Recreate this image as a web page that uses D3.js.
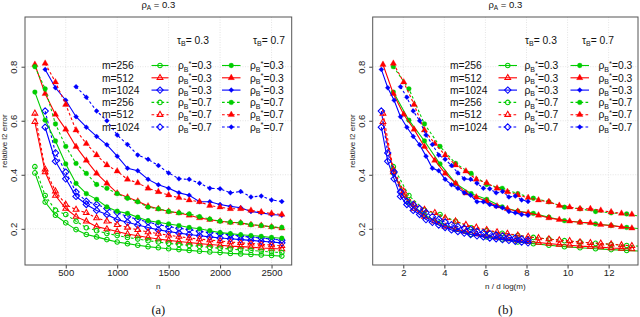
<!DOCTYPE html>
<html>
<head>
<meta charset="utf-8">
<script src="https://cdnjs.cloudflare.com/ajax/libs/d3/7.8.5/d3.min.js"></script>
<style>
body { margin: 0; background: #fff; }
svg { display: block; font-family: "Liberation Sans", Arial, sans-serif; }
</style>
</head>
<body>
<script>
var w = 640;
var h = 317;

// sample sizes used on the x axis of panel (a)
var nGrid = [200, 300, 400, 500, 600, 700, 800, 900, 1000, 1100, 1200, 1300, 1400,
             1500, 1600, 1700, 1800, 1900, 2000, 2100, 2200, 2300, 2400, 2500, 2600];

var mLabels = ["m=256", "m=512", "m=1024"];
var colors = ["#00cd00", "#ff0000", "#0000ff"];
// d log(m) for m = 256, 512, 1024 (divisor for panel b)
var dLogM = [132, 198, 322];

var xTicksA = [500, 1000, 1500, 2000, 2500];
var xTicksB = [2, 4, 6, 8, 10, 12];
var yTicks = [0.2, 0.4, 0.6, 0.8];

// tau_B = 0.3 (open symbols)
var greenOpen03 = [0.407, 0.299, 0.25, 0.222, 0.197, 0.179, 0.17, 0.16, 0.151, 0.145, 0.139, 0.134, 0.13,
                   0.126, 0.123, 0.12, 0.117, 0.114, 0.112, 0.109, 0.107, 0.105, 0.103, 0.101, 0.099];
var greenOpen07 = [0.43, 0.323, 0.269, 0.253, 0.228, 0.204, 0.193, 0.183, 0.175, 0.168, 0.162, 0.156, 0.151,
                   0.146, 0.142, 0.138, 0.135, 0.131, 0.128, 0.125, 0.122, 0.12, 0.117, 0.114, 0.112];
var redOpen03 = [0.596, 0.41, 0.323, 0.275, 0.245, 0.228, 0.208, 0.199, 0.19, 0.181, 0.174, 0.168, 0.162,
                 0.157, 0.153, 0.149, 0.145, 0.142, 0.139, 0.136, 0.134, 0.132, 0.129, 0.127, 0.125];
var redOpen07 = [0.627, 0.42, 0.339, 0.29, 0.271, 0.259, 0.24, 0.228, 0.215, 0.205, 0.196, 0.188, 0.182,
                 0.176, 0.171, 0.166, 0.162, 0.158, 0.155, 0.151, 0.148, 0.146, 0.143, 0.14, 0.137];
var blueOpen03 = [0.576, 0.45, 0.385, 0.32, 0.29, 0.268, 0.253, 0.234, 0.224, 0.214, 0.205, 0.196,
                  0.19, 0.184, 0.179, 0.174, 0.17, 0.166, 0.163, 0.16, 0.157, 0.154, 0.151, 0.148];
var blueOpen07 = [0.636, 0.481, 0.41, 0.336, 0.302, 0.29, 0.275, 0.26, 0.245, 0.235, 0.225, 0.215,
                  0.208, 0.202, 0.197, 0.19, 0.186, 0.182, 0.177, 0.173, 0.169, 0.166, 0.162, 0.158];

// tau_B = 0.7 (filled symbols)
var greenFill03 = [0.706, 0.602, 0.525, 0.44, 0.368, 0.33, 0.309, 0.281, 0.265, 0.257, 0.243, 0.23, 0.224,
                   0.218, 0.212, 0.205, 0.2, 0.193, 0.186, 0.182, 0.178, 0.175, 0.172, 0.168, 0.165];
var greenFill07 = [0.80, 0.718, 0.588, 0.505, 0.442, 0.405, 0.364, 0.35, 0.33, 0.313, 0.30, 0.28, 0.274,
                   0.264, 0.259, 0.255, 0.245, 0.236, 0.228, 0.224, 0.222, 0.215, 0.212, 0.207, 0.205];
var redFill03 = [0.808, 0.70, 0.623, 0.568, 0.504, 0.453, 0.405, 0.368, 0.332, 0.317, 0.302, 0.284, 0.274,
                 0.264, 0.259, 0.25, 0.24, 0.234, 0.228, 0.224, 0.222, 0.215, 0.212, 0.207, 0.202];
var redFill07 = [0.812, 0.743, 0.66, 0.565, 0.515, 0.473, 0.436, 0.413, 0.383, 0.37, 0.35, 0.337,
                 0.325, 0.315, 0.306, 0.30, 0.286, 0.28, 0.274, 0.274, 0.268, 0.262, 0.257, 0.253];
var blueFill03 = [0.79, 0.722, 0.676, 0.615, 0.576, 0.542, 0.511, 0.469, 0.424, 0.415, 0.383, 0.363,
                  0.35, 0.333, 0.324, 0.30, 0.30, 0.29, 0.283, 0.278, 0.264, 0.259, 0.253, 0.25];
var blueFill07 = [0.726, 0.687, 0.636, 0.60, 0.547, 0.512, 0.473, 0.457, 0.434, 0.407, 0.385,
                  0.383, 0.369, 0.35, 0.348, 0.333, 0.338, 0.318, 0.321, 0.307, 0.301];

// m index, tau column (0 open / 1 filled), rho row (0 solid / 1 dashed), first n
var series = [
  {m: 0, tau: 0, rho: 0, start: 200, y: greenOpen03},
  {m: 1, tau: 0, rho: 0, start: 200, y: redOpen03},
  {m: 2, tau: 0, rho: 0, start: 300, y: blueOpen03},
  {m: 0, tau: 0, rho: 1, start: 200, y: greenOpen07},
  {m: 1, tau: 0, rho: 1, start: 200, y: redOpen07},
  {m: 2, tau: 0, rho: 1, start: 300, y: blueOpen07},
  {m: 0, tau: 1, rho: 0, start: 200, y: greenFill03},
  {m: 1, tau: 1, rho: 0, start: 200, y: redFill03},
  {m: 2, tau: 1, rho: 0, start: 300, y: blueFill03},
  {m: 0, tau: 1, rho: 1, start: 200, y: greenFill07},
  {m: 1, tau: 1, rho: 1, start: 300, y: redFill07},
  {m: 2, tau: 1, rho: 1, start: 600, y: blueFill07}
];

var plotTop = 17, plotBottom = 265;

var panels = [
  {id: "a", left: 25, right: 291.7, xDomain: [104, 2696], xTicks: xTicksA, xLabel: "n", tag: "(a)", scaled: false,
   lg: {m: 102, l1: 151.5, l2: 168.5, t1: 178, l3: 222, l4: 240.5, t2: 250, h1: 177, h2: 253}},
  {id: "b", left: 372.7, right: 638, xDomain: [0.51, 13.43], xTicks: xTicksB, xLabel: "n / d log(m)", tag: "(b)", scaled: true,
   lg: {m: 450, l1: 498.5, l2: 517, t1: 524.5, l3: 570.5, l4: 589, t2: 598.5, h1: 525, h2: 582}}
];

var svg = d3.select("body").append("svg")
            .attr("width", w)
            .attr("height", h);
var defs = svg.append("defs");

var y = d3.scaleLinear().domain([0.066, 0.984]).range([plotBottom, plotTop]);

// R style plotting symbols
function shapePath(type, filled) {
  var p = d3.path();
  if (type == 0) {
    var r = filled ? 2.4 : 2.3;
    p.arc(0, 0, r, 0, 2 * Math.PI);
  } else if (type == 1) {
    var s = filled ? 6.4 : 5.8;
    p.moveTo(0, -s * 0.577);
    p.lineTo(s / 2, s * 0.289);
    p.lineTo(-s / 2, s * 0.289);
    p.closePath();
  } else {
    var d = filled ? 2.5 : 3.2;
    p.moveTo(0, -d);
    p.lineTo(d, 0);
    p.lineTo(0, d);
    p.lineTo(-d, 0);
    p.closePath();
  }
  return p.toString();
}

function drawMarker(g, s, px, py) {
  g.append("path")
   .attr("d", shapePath(s.m, s.tau == 1))
   .attr("transform", "translate(" + px + "," + py + ")")
   .attr("fill", s.tau == 1 ? colors[s.m] : "none")
   .attr("stroke", colors[s.m])
   .attr("stroke-width", s.tau == 1 ? 0.3 : 1.05);
}

function rhoText(g, x, yy, value) {
  var t = g.append("text").attr("x", x).attr("y", yy)
           .attr("font-size", 10.3).attr("fill", "#111");
  t.append("tspan").text("\u03c1");
  t.append("tspan").attr("font-size", 7).attr("dy", 2.5).text("B");
  t.append("tspan").attr("font-size", 7.5).attr("dy", -6).text("*");
  t.append("tspan").attr("dy", 3.5).text("=" + value);
}

function tauText(g, x, yy, value) {
  var t = g.append("text").attr("x", x).attr("y", yy)
           .attr("font-size", 10.3).attr("fill", "#111");
  t.append("tspan").text("\u03c4");
  t.append("tspan").attr("font-size", 7).attr("dy", 2.5).text("B");
  t.append("tspan").attr("dy", -2.5).text("= " + value);
}

panels.forEach(function(p) {
  var x = d3.scaleLinear().domain(p.xDomain).range([p.left, p.right]);
  var g = svg.append("g");

  defs.append("clipPath").attr("id", "clip-" + p.id)
      .append("rect")
      .attr("x", p.left).attr("y", plotTop)
      .attr("width", p.right - p.left).attr("height", plotBottom - plotTop);

  // grid
  g.selectAll(".vg").data(p.xTicks).enter().append("line")
   .attr("x1", function(d) { return x(d); }).attr("x2", function(d) { return x(d); })
   .attr("y1", plotTop).attr("y2", plotBottom)
   .attr("stroke", "#d8d8d8").attr("stroke-width", 0.7).attr("stroke-dasharray", "1,1.5");
  g.selectAll(".hg").data(yTicks).enter().append("line")
   .attr("x1", p.left).attr("x2", p.right)
   .attr("y1", function(d) { return y(d); }).attr("y2", function(d) { return y(d); })
   .attr("stroke", "#d8d8d8").attr("stroke-width", 0.7).attr("stroke-dasharray", "1,1.5");

  // axes
  var xa = g.append("g").attr("transform", "translate(0," + plotBottom + ")")
            .call(d3.axisBottom(x).tickValues(p.xTicks).tickSize(3.5).tickPadding(1).tickFormat(d3.format("d")));
  xa.select(".domain").remove();
  xa.selectAll("line").attr("stroke", "#444");
  xa.selectAll("text").attr("font-size", 9.5).attr("fill", "#222").attr("font-family", "Liberation Sans, Arial, sans-serif");

  var ya = g.append("g").attr("transform", "translate(" + p.left + ",0)")
            .call(d3.axisLeft(y).tickValues(yTicks).tickSize(3.5).tickFormat(d3.format(".1f")));
  ya.select(".domain").remove();
  ya.selectAll("line").attr("stroke", "#444");
  ya.selectAll("text")
    .attr("x", 0).attr("dy", 0)
    .attr("transform", "translate(-8,0) rotate(-90)")
    .attr("text-anchor", "middle")
    .attr("font-size", 9.5).attr("fill", "#222").attr("font-family", "Liberation Sans, Arial, sans-serif");

  // data
  var dg = g.append("g").attr("clip-path", "url(#clip-" + p.id + ")");
  series.forEach(function(s) {
    var first = nGrid.indexOf(s.start);
    var pts = s.y.map(function(v, i) {
      var n = nGrid[first + i];
      return [x(p.scaled ? n / dLogM[s.m] : n), y(v)];
    });
    dg.append("path")
      .attr("d", d3.line()(pts))
      .attr("fill", "none")
      .attr("stroke", colors[s.m])
      .attr("stroke-width", 1.1)
      .attr("stroke-dasharray", s.rho == 1 ? "2.7,2.3" : null);
    pts.forEach(function(pt) { drawMarker(dg, s, pt[0], pt[1]); });
  });

  // box
  g.append("rect")
   .attr("x", p.left).attr("y", plotTop)
   .attr("width", p.right - p.left).attr("height", plotBottom - plotTop)
   .attr("fill", "none").attr("stroke", "#555").attr("stroke-width", 1);

  // titles
  var cx = (p.left + p.right) / 2;
  var tt = g.append("text").attr("x", cx).attr("y", 8).attr("text-anchor", "middle")
            .attr("font-size", 9.5).attr("fill", "#111");
  tt.append("tspan").text("\u03c1");
  tt.append("tspan").attr("font-size", 6.5).attr("dy", 2).text("A");
  tt.append("tspan").attr("dy", -2).text(" = 0.3");

  g.append("text").attr("x", cx).attr("y", 289).attr("text-anchor", "middle")
   .attr("font-size", 8).attr("fill", "#222").text(p.xLabel);
  g.append("text").attr("transform", "translate(" + (p.left - 18) + "," + ((plotTop + plotBottom) / 2) + ") rotate(-90)")
   .attr("text-anchor", "middle").attr("font-size", 8).attr("fill", "#222").text("relative l2 error");
  g.append("text").attr("x", cx).attr("y", 314).attr("text-anchor", "middle")
   .attr("font-family", "Liberation Serif, Times New Roman, serif").attr("font-size", 12.5).attr("fill", "#111")
   .text(p.tag);

  // legend
  var L = p.lg;
  tauText(g, L.h1, 43.5, "0.3");
  tauText(g, L.h2, 43.5, "0.7");
  series.filter(function(s) { return s.tau == 0; }).forEach(function(s, i) {
    var rowY = 65.5 + 12.3 * i;
    g.append("text").attr("x", L.m).attr("y", rowY + 3.7)
     .attr("font-size", 10.3).attr("fill", "#111").text(mLabels[s.m]);
    [0, 1].forEach(function(tau) {
      var a = tau == 0 ? L.l1 : L.l3, b = tau == 0 ? L.l2 : L.l4;
      var ss = {m: s.m, tau: tau, rho: s.rho};
      g.append("line").attr("x1", a).attr("x2", b).attr("y1", rowY).attr("y2", rowY)
       .attr("stroke", colors[s.m]).attr("stroke-width", 1.1)
       .attr("stroke-dasharray", s.rho == 1 ? "2.7,2.3" : null);
      drawMarker(g, ss, (a + b) / 2, rowY);
      rhoText(g, tau == 0 ? L.t1 : L.t2, rowY + 3.7, s.rho == 0 ? "0.3" : "0.7");
    });
  });
});
</script>
</body>
</html>
